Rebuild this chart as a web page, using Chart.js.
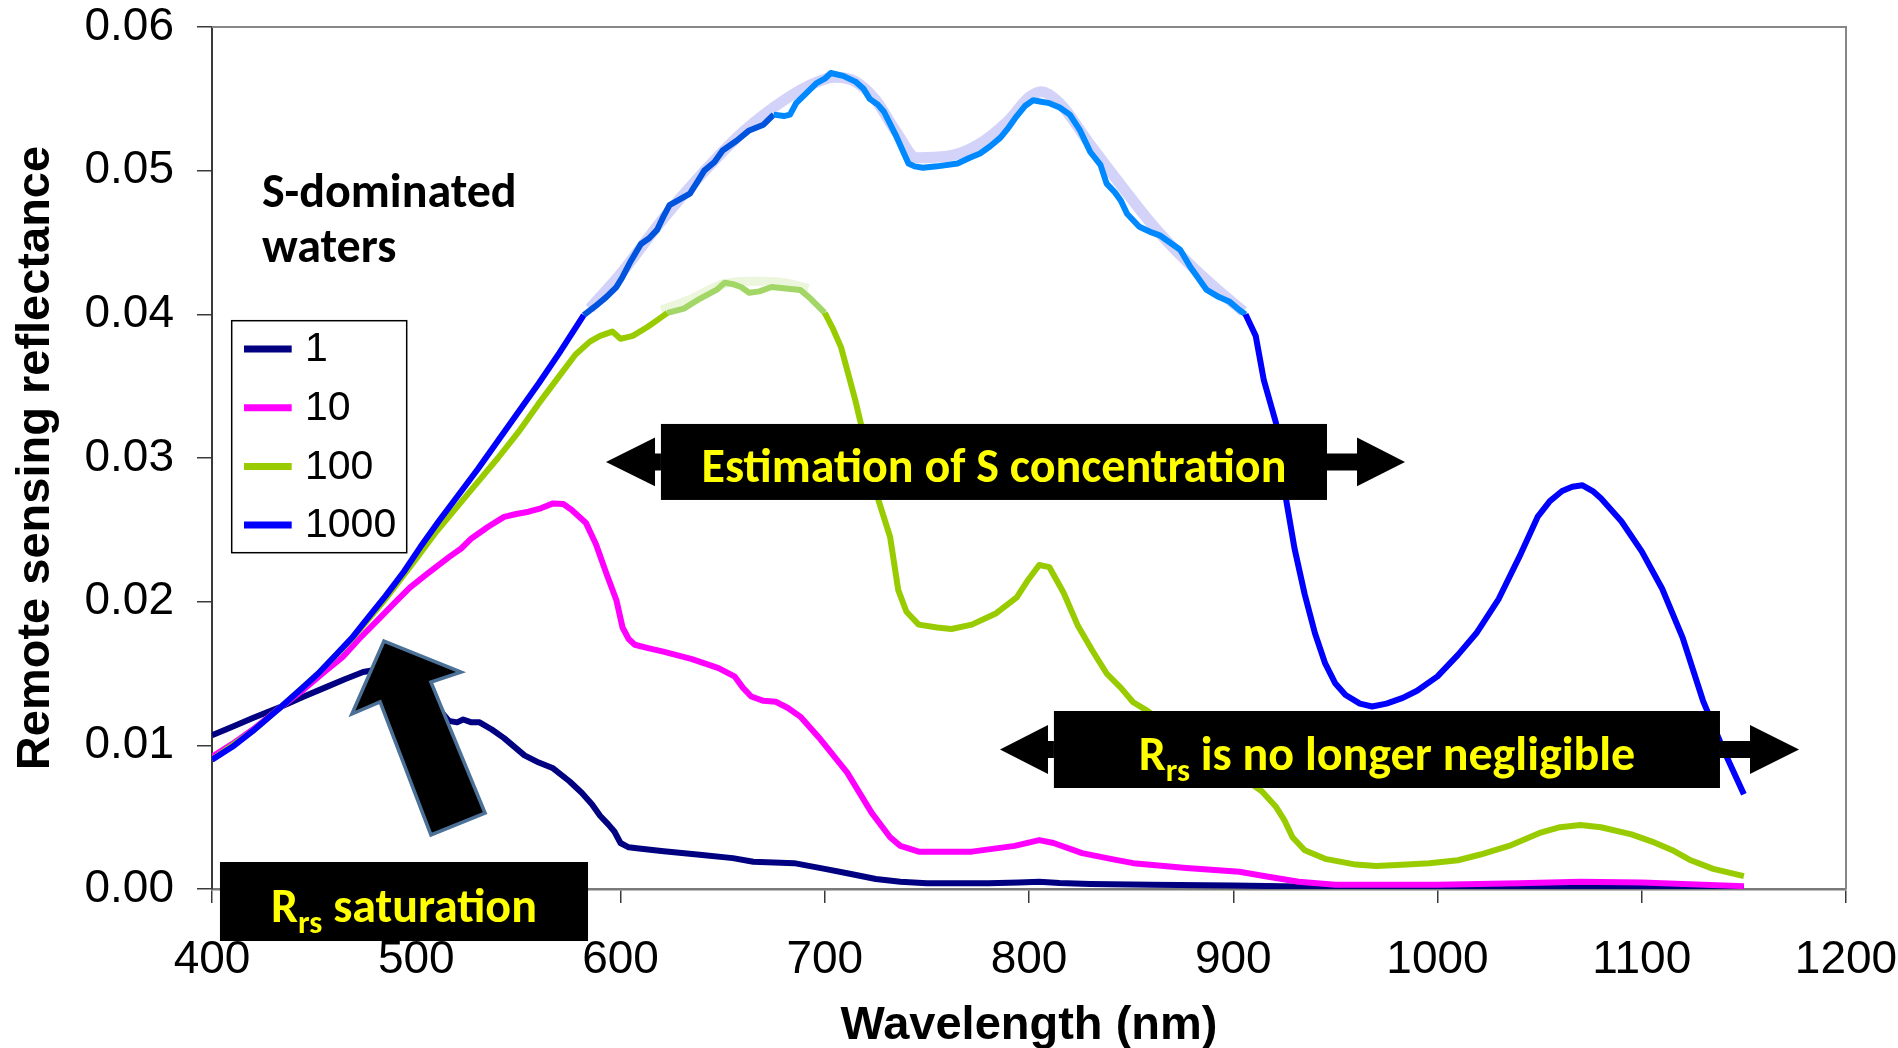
<!DOCTYPE html>
<html>
<head>
<meta charset="utf-8">
<title>Remote sensing reflectance of S-dominated waters</title>
<script src="https://cdn.jsdelivr.net/npm/chart.js@4.4.1/dist/chart.umd.min.js"></script>
<style>
  html, body { margin: 0; padding: 0; background: #ffffff; overflow: hidden; }
  canvas { display: block; }
</style>
</head>
<body>
<canvas id="chart" width="1898" height="1048"></canvas>
<script>
// Remote sensing reflectance Rrs (sr^-1) against wavelength (nm)
// for four S concentrations: 1, 10, 100 and 1000.

const SERIES_LABELS = ['1', '10', '100', '1000'];

const wl1 = [400,410,420,434,445,455,465,474,482,490,500,510,516,520,523,527,531,537,543,553,560,567,575,581,586,590,594,597,600,604,608,620,640,655,665,685,700,711,725,737,750,780,795,805,815,830,860,900,940,1000,1050,1070,1100,1150];
const rrs1 = [0.0107,0.0113,0.0119,0.0127,0.0134,0.0140,0.0146,0.0151,0.0153,0.0151,0.0142,0.0127,0.0117,0.0116,0.0118,0.0116,0.0116,0.0111,0.0105,0.0093,0.0088,0.0084,0.0075,0.0067,0.0059,0.0051,0.0045,0.0040,0.0032,0.0029,0.00283,0.00265,0.00237,0.00215,0.0019,0.0018,0.0014,0.0011,0.0007,0.0005,0.0004,0.0004,0.00045,0.0005,0.00042,0.00035,0.0003,0.00025,0.00015,0.0001,0.00015,0.0002,0.00015,0.0001];

const wl10 = [400,410,420,434,445,455,464,472,481,490,497,505,516,522,527,535,543,549,555,561,567,572,576,583,588,593,598,601,604,607,614,621,635,648,656,660,664,670,676,682,688,698,711,723,732,737,746,772,793,805,812,826,840,851,877,903,915,932,950,1000,1040,1070,1100,1150];
const rrs10 = [0.0092,0.0101,0.0111,0.0127,0.0139,0.0151,0.01615,0.0174,0.0187,0.0200,0.0210,0.0219,0.0231,0.0237,0.0244,0.0252,0.0259,0.0261,0.02626,0.0265,0.02684,0.0268,0.0264,0.0255,0.0240,0.0220,0.0201,0.0182,0.0174,0.0170,0.01675,0.01652,0.0160,0.01538,0.01478,0.0140,0.0134,0.0131,0.01303,0.0126,0.0120,0.0104,0.0081,0.0053,0.0036,0.0030,0.0026,0.0026,0.0030,0.0034,0.0032,0.0025,0.0021,0.0018,0.00146,0.0012,0.0009,0.0005,0.0003,0.0003,0.0004,0.0005,0.00045,0.0002];

const wl100 = [400,420,434,452,469,485,500,510,520,530,540,550,560,570,578,585,590,596,600,603,606,613,618,623,631,639,647,651,655,659,663,668,674,681,688,693,700,704,708,715,720,726,732,736,740,746,755,762,772,784,794,799,805,810,817,824,831,838,845,851,858,870,880,890,900,910,914,921,925,929,935,945,960,970,985,996,1010,1021,1035,1050,1060,1070,1080,1095,1105,1115,1124,1135,1150];
const rrs100 = [0.0090,0.0110,0.0127,0.0150,0.0175,0.0202,0.0230,0.0249,0.0266,0.0283,0.0300,0.0318,0.0338,0.0357,0.0372,0.0381,0.0385,0.0388,0.0383,0.0384,0.0385,0.0391,0.0396,0.0401,0.0404,0.0411,0.0417,0.0422,0.0421,0.0419,0.0415,0.0416,0.0419,0.0418,0.0417,0.0411,0.0401,0.0390,0.0377,0.0340,0.0310,0.0272,0.0245,0.0208,0.0193,0.0184,0.0182,0.0181,0.0184,0.0192,0.0203,0.0214,0.02255,0.0224,0.0206,0.0183,0.0166,0.0150,0.0140,0.0130,0.0124,0.0111,0.0100,0.0090,0.0081,0.0072,0.0068,0.0057,0.0048,0.0036,0.0027,0.0021,0.0017,0.0016,0.0017,0.0018,0.0020,0.0024,0.0030,0.0039,0.0043,0.00445,0.0043,0.0038,0.0033,0.0027,0.0020,0.0014,0.0009];

const wl1000 = [400,410,420,434,445,452,460,469,477,485,494,502,511,520,530,540,550,560,570,582,588,593,598,601,605,610,614,618,621,624,629,634,638,641,646,650,657,663,670,675,680,683,686,691,696,700,703,709,715,719,722,726,729,735,741,744,748,755,765,771,776,781,786,790,794,798,802,806,810,815,820,825,830,835,838,842,845,848,854,860,864,870,874,879,887,893,898,903,906,911,915,921,926,930,935,940,945,950,955,962,968,975,983,990,1000,1010,1019,1030,1040,1049,1055,1061,1066,1071,1076,1080,1090,1100,1110,1120,1130,1140,1150];
const rrs1000 = [0.0090,0.0099,0.0110,0.0127,0.0141,0.0150,0.0162,0.01756,0.0190,0.0204,0.0221,0.0238,0.0256,0.0273,0.0292,0.0312,0.0332,0.0352,0.0373,0.03995,0.0406,0.0412,0.0419,0.0426,0.0437,0.0449,0.0453,0.0459,0.0468,0.0476,0.0480,0.0484,0.0493,0.0500,0.0506,0.0514,0.0521,0.0528,0.0532,0.0539,0.0538,0.0539,0.0547,0.0554,0.0561,0.0564,0.0568,0.0566,0.0562,0.0557,0.0550,0.0546,0.0541,0.0524,0.0505,0.0503,0.0502,0.0503,0.0505,0.0509,0.0512,0.0517,0.0523,0.0530,0.0538,0.0545,0.0549,0.0548,0.0547,0.0544,0.0539,0.0528,0.0513,0.0504,0.0491,0.0485,0.0479,0.0470,0.0461,0.0457,0.0455,0.0449,0.0445,0.0433,0.0417,0.0412,0.0409,0.0403,0.0400,0.0385,0.0354,0.0324,0.0270,0.0237,0.0205,0.0178,0.0157,0.0143,0.0135,0.0129,0.0127,0.0129,0.0133,0.0138,0.0148,0.0163,0.0178,0.0202,0.0231,0.0259,0.0270,0.0277,0.0280,0.0281,0.0277,0.0272,0.0256,0.0235,0.0209,0.0175,0.0131,0.0097,0.0066];

// Smoothed envelope of the saturated part of the 1000 spectrum
const wlEnvelope1000 = [585,600,620,640,660,680,695,705,715,725,735,745,760,775,790,800,806,815,830,845,860,875,890,905];
const rrsEnvelope1000 = [0.0404,0.0428,0.0465,0.0498,0.0527,0.0549,0.0561,0.0565,0.0562,0.0549,0.0527,0.0509,0.0510,0.0518,0.0535,0.0551,0.0555,0.0547,0.0518,0.0490,0.0463,0.0440,0.0420,0.0402];

// Smoothed envelope of the saturated part of the 100 spectrum
const wlEnvelope100 = [620,635,650,665,680,692];
const rrsEnvelope100 = [0.0403,0.0411,0.0421,0.0423,0.0422,0.0418];

// Wavelength ranges where the spectra are highlighted (nm)
const RANGE_1000_A = [582, 675];
const RANGE_1000_B = [675, 907];
const RANGE_100 = [622, 700];

// ---- styling ----
const SERIES_COLORS = ['#000080', '#FF00FF', '#99CC00', '#0000FF'];
const AXIS_FONT = '"Liberation Sans", Arial, Helvetica, sans-serif';
const NOTE_FONT = 'Carlito, Calibri, Lato, "Open Sans", sans-serif';

const toPoints = (xs, ys) => xs.map((x, i) => ({ x, y: ys[i] }));
const inRange = (c, r) => c.p0.parsed.x >= r[0] && c.p1.parsed.x <= r[1];

const datasets = [
  { label: SERIES_LABELS[0], data: toPoints(wl1, rrs1), borderColor: SERIES_COLORS[0], order: 4 },
  { label: SERIES_LABELS[1], data: toPoints(wl10, rrs10), borderColor: SERIES_COLORS[1], order: 3 },
  { label: SERIES_LABELS[2], data: toPoints(wl100, rrs100), borderColor: SERIES_COLORS[2], order: 2,
    segment: { borderColor: c => inRange(c, RANGE_100) ? '#A2D667' : undefined } },
  { label: SERIES_LABELS[3], data: toPoints(wl1000, rrs1000), borderColor: SERIES_COLORS[3], order: 1,
    segment: { borderColor: c => inRange(c, RANGE_1000_A) ? '#0053DC' : (inRange(c, RANGE_1000_B) ? '#0088FF' : undefined) } },
  { label: 'envelope 1000', data: toPoints(wlEnvelope1000, rrsEnvelope1000), borderColor: 'rgba(150,150,240,0.42)',
    borderWidth: 11, order: 1.5, cubicInterpolationMode: 'monotone' },
  { label: 'envelope 100', data: toPoints(wlEnvelope100, rrsEnvelope100), borderColor: 'rgba(190,225,140,0.3)',
    borderWidth: 9, order: 2.5, cubicInterpolationMode: 'monotone' }
];

// Callout boxes with double arrows, positioned in axis units
const CALLOUTS = [
  { runs: [{ t: 'Estimation of S concentration' }],
    x0: 619.8, x1: 945.9, y0: 0.02708, y1: 0.03237,
    leftTip: 592.9, leftBase: 616.9, rightBase: 960.6, rightTip: 984.1 },
  { runs: [{ t: 'R' }, { t: 'rs', sub: true }, { t: ' is no longer negligible' }],
    x0: 812.2, x1: 1138.3, y0: 0.00703, y1: 0.01239,
    leftTip: 785.8, leftBase: 809.3, rightBase: 1153, rightTip: 1177 },
  { runs: [{ t: 'R' }, { t: 'rs', sub: true }, { t: ' saturation' }],
    x0: 403.9, x1: 584.1, y0: -0.00362, y1: 0.00188 }
];
const HEAD_HALF = 0.0017;   // arrow head half height
const SHAFT_HALF = 0.00059; // arrow shaft half height

// Block arrow pointing at the saturated part of the spectra
const BLOCK_ARROW = [[484.2, 0.01726], [521.9, 0.01510], [507.2, 0.01441], [533.7, 0.00529],
                     [507.2, 0.00376], [482.3, 0.01302], [468.5, 0.01218]];

const PANEL_TITLE = { lines: ['S-dominated', 'waters'], x: 424.5, y: [0.04749, 0.04366] };

const NOTE_TEXT_WIDTH = 585; // rendered width of the first callout text (px)

function noteSize(ctx) {
  ctx.font = `bold 100px ${NOTE_FONT}`;
  const w = ctx.measureText(CALLOUTS[0].runs[0].t).width;
  return 100 * NOTE_TEXT_WIDTH / w;
}

function drawRuns(ctx, runs, cx, baseline, size) {
  const sub = size * 0.68;
  const widths = runs.map(r => {
    ctx.font = `bold ${r.sub ? sub : size}px ${NOTE_FONT}`;
    return ctx.measureText(r.t).width;
  });
  let x = cx - widths.reduce((a, b) => a + b, 0) / 2;
  runs.forEach((r, i) => {
    ctx.font = `bold ${r.sub ? sub : size}px ${NOTE_FONT}`;
    ctx.fillText(r.t, x, baseline + (r.sub ? size * 0.24 : 0));
    x += widths[i];
  });
}

// Grey border along the top and right of the plot area
const frame = {
  id: 'frame',
  beforeDatasetsDraw(chart) {
    const { ctx, chartArea: a } = chart;
    ctx.save();
    ctx.strokeStyle = '#878787';
    ctx.lineWidth = 2;
    ctx.beginPath();
    ctx.moveTo(a.left, a.top);
    ctx.lineTo(a.right, a.top);
    ctx.lineTo(a.right, a.bottom);
    ctx.stroke();
    ctx.restore();
  }
};

const notes = {
  id: 'notes',
  afterDatasetsDraw(chart) {
    const { ctx, chartArea: area } = chart;
    const xs = chart.scales.x, ys = chart.scales.y;
    const px = v => xs.getPixelForValue(v);
    const py = v => ys.getPixelForValue(v);
    const size = noteSize(ctx);

    ctx.save();

    // block arrow
    ctx.beginPath();
    BLOCK_ARROW.forEach(([x, y], i) => i ? ctx.lineTo(px(x), py(y)) : ctx.moveTo(px(x), py(y)));
    ctx.closePath();
    ctx.fillStyle = '#000000';
    ctx.fill();
    ctx.strokeStyle = '#4C7198';
    ctx.lineWidth = 3.5;
    ctx.lineJoin = 'miter';
    ctx.stroke();

    // callouts
    CALLOUTS.forEach(c => {
      const cy = (c.y0 + c.y1) / 2;
      ctx.fillStyle = '#000000';
      ctx.fillRect(px(c.x0), py(c.y1), px(c.x1) - px(c.x0), py(c.y0) - py(c.y1));
      if (c.leftTip !== undefined) {
        // left arrow
        ctx.beginPath();
        ctx.moveTo(px(c.leftTip), py(cy));
        ctx.lineTo(px(c.leftBase), py(cy + HEAD_HALF));
        ctx.lineTo(px(c.leftBase), py(cy + SHAFT_HALF));
        ctx.lineTo(px(c.x0), py(cy + SHAFT_HALF));
        ctx.lineTo(px(c.x0), py(cy - SHAFT_HALF));
        ctx.lineTo(px(c.leftBase), py(cy - SHAFT_HALF));
        ctx.lineTo(px(c.leftBase), py(cy - HEAD_HALF));
        ctx.closePath();
        ctx.fill();
        // right arrow
        ctx.beginPath();
        ctx.moveTo(px(c.rightTip), py(cy));
        ctx.lineTo(px(c.rightBase), py(cy + HEAD_HALF));
        ctx.lineTo(px(c.rightBase), py(cy + SHAFT_HALF));
        ctx.lineTo(px(c.x1), py(cy + SHAFT_HALF));
        ctx.lineTo(px(c.x1), py(cy - SHAFT_HALF));
        ctx.lineTo(px(c.rightBase), py(cy - SHAFT_HALF));
        ctx.lineTo(px(c.rightBase), py(cy - HEAD_HALF));
        ctx.closePath();
        ctx.fill();
      }
      ctx.fillStyle = '#FFFF00';
      ctx.textBaseline = 'alphabetic';
      ctx.textAlign = 'left';
      drawRuns(ctx, c.runs, (px(c.x0) + px(c.x1)) / 2, py(cy) + size * 0.36 + 3, size);
    });

    // panel title
    ctx.fillStyle = '#000000';
    ctx.font = `bold ${size}px ${NOTE_FONT}`;
    ctx.textAlign = 'left';
    ctx.textBaseline = 'alphabetic';
    PANEL_TITLE.lines.forEach((t, i) => ctx.fillText(t, px(PANEL_TITLE.x), py(PANEL_TITLE.y[i])));

    // legend box
    const L = { left: area.left + 19.7, top: area.top + 293.7, w: 175, h: 232,
                line0: 12.3, line1: 60, text: 73.3, row0: 28.3, gap: 58.7 };
    ctx.fillStyle = '#ffffff';
    ctx.fillRect(L.left, L.top, L.w, L.h);
    ctx.strokeStyle = '#000000';
    ctx.lineWidth = 1.5;
    ctx.strokeRect(L.left, L.top, L.w, L.h);
    ctx.font = `41px ${AXIS_FONT}`;
    ctx.textBaseline = 'middle';
    SERIES_LABELS.forEach((lab, i) => {
      const y = L.top + L.row0 + i * L.gap;
      ctx.strokeStyle = SERIES_COLORS[i];
      ctx.lineWidth = 7;
      ctx.lineCap = 'butt';
      ctx.beginPath();
      ctx.moveTo(L.left + L.line0, y);
      ctx.lineTo(L.left + L.line1, y);
      ctx.stroke();
      ctx.fillStyle = '#000000';
      ctx.fillText(lab, L.left + L.text, y + 1);
    });

    ctx.restore();
  }
};

function build() {
  new Chart(document.getElementById('chart'), {
    type: 'line',
    data: { datasets },
    options: {
      responsive: false,
      animation: false,
      devicePixelRatio: 1,
      layout: { padding: { left: 0, right: 52, top: 27, bottom: 0 } },
      plugins: { legend: { display: false }, tooltip: { enabled: false } },
      elements: {
        point: { radius: 0 },
        line: { borderWidth: 6, borderJoinStyle: 'round', borderCapStyle: 'butt', tension: 0 }
      },
      scales: {
        x: {
          type: 'linear', min: 400, max: 1200,
          afterFit: s => { s.height = 159; s.paddingLeft = 0; s.paddingRight = 0; },
          ticks: { stepSize: 100, autoSkip: false, maxRotation: 0, padding: 30, color: '#000000',
                   font: { family: AXIS_FONT, size: 46 }, callback: v => String(v) },
          grid: { drawOnChartArea: false, drawTicks: true, tickLength: 14, color: '#3a3a3a', lineWidth: 1.5 },
          border: { display: true, color: '#7a7a7a', width: 2.5 },
          title: { display: true, text: 'Wavelength (nm)', color: '#000000',
                   font: { family: AXIS_FONT, size: 47, weight: 'bold', lineHeight: 0.95 },
                   padding: { top: 0, bottom: 0 } }
        },
        y: {
          type: 'linear', min: 0, max: 0.06,
          afterFit: s => { s.width = 212; s.paddingTop = 0; s.paddingBottom = 0; },
          ticks: { stepSize: 0.01, padding: 23, color: '#000000',
                   font: { family: AXIS_FONT, size: 46 }, callback: v => v.toFixed(2) },
          grid: { drawOnChartArea: false, drawTicks: true, tickLength: 15, color: '#3a3a3a', lineWidth: 1.5 },
          border: { display: true, color: '#3a3a3a', width: 2 },
          title: { display: true, text: 'Remote sensing reflectance', color: '#000000',
                   font: { family: AXIS_FONT, size: 47, weight: 'bold' }, padding: { top: 8, bottom: 0 } }
        }
      }
    },
    plugins: [frame, notes]
  });
}

const fontLoads = [
  'bold 47px "Liberation Sans"', '46px "Liberation Sans"', 'bold 40px Lato'
].map(f => document.fonts.load(f).catch(() => null));
Promise.all(fontLoads).then(build, build);
</script>
</body>
</html>
